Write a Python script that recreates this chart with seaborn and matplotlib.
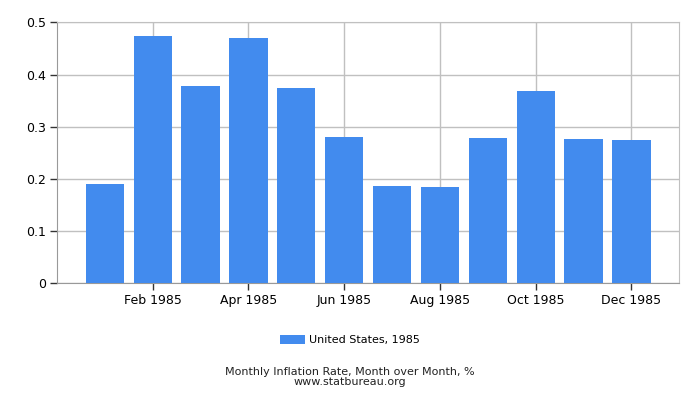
import numpy as np
import pandas as pd
import matplotlib
matplotlib.use("Agg")
import matplotlib.pyplot as plt
import seaborn as sns

months = ["Jan 1985", "Feb 1985", "Mar 1985", "Apr 1985", "May 1985", "Jun 1985",
          "Jul 1985", "Aug 1985", "Sep 1985", "Oct 1985", "Nov 1985", "Dec 1985"]
rates = [0.190, 0.474, 0.378, 0.470, 0.374, 0.280,
         0.186, 0.184, 0.278, 0.368, 0.276, 0.274]
series_name = "United States, 1985"

df = pd.DataFrame({"month": months, "rate": rates, "series": series_name})

plt.rcParams["font.family"] = ["DejaVu Sans"]
plt.rcParams["xtick.bottom"] = True
plt.rcParams["ytick.left"] = True

fig = plt.figure(figsize=(7, 4), dpi=100)
ax = fig.add_axes([0.0814, 0.292, 0.889, 0.652])

sns.barplot(data=df, x="month", y="rate", hue="series", palette=["#428bee"],
            width=0.8, saturation=1, linewidth=0, ax=ax, zorder=3)

ax.set_xlim(-1, 12)
ax.set_ylim(0, 0.5)
ax.set_yticks(np.arange(0, 0.51, 0.1))
ax.set_yticklabels(["0", "0.1", "0.2", "0.3", "0.4", "0.5"])
tick_pos = list(range(1, 12, 2))
ax.set_xticks(tick_pos)
ax.set_xticklabels([months[i] for i in tick_pos])
ax.set_xlabel("")
ax.set_ylabel("")

ax.grid(True, color="#c0c0c0", linewidth=1, zorder=0)
ax.set_axisbelow(True)
for s in ["top", "right"]:
    ax.spines[s].set_color("#c0c0c0")
for s in ["left", "bottom"]:
    ax.spines[s].set_color("#999999")
ax.tick_params(axis="both", labelsize=9, length=5, width=1, color="#333333",
               direction="out", left=True, bottom=True, pad=3)

handles, labels = ax.get_legend_handles_labels()
ax.legend_.remove()
fig.legend(handles, labels, loc="center", bbox_to_anchor=(0.5, 0.15), frameon=False,
           fontsize=8, handlelength=2.2, handleheight=0.9, handletextpad=0.4)

fig.text(0.5, 0.071, "Monthly Inflation Rate, Month over Month, %", ha="center",
         va="center", fontsize=8, color="#222222")
fig.text(0.5, 0.046, "www.statbureau.org", ha="center", va="center",
         fontsize=8, color="#222222")

fig.savefig("out.png", dpi=100)
